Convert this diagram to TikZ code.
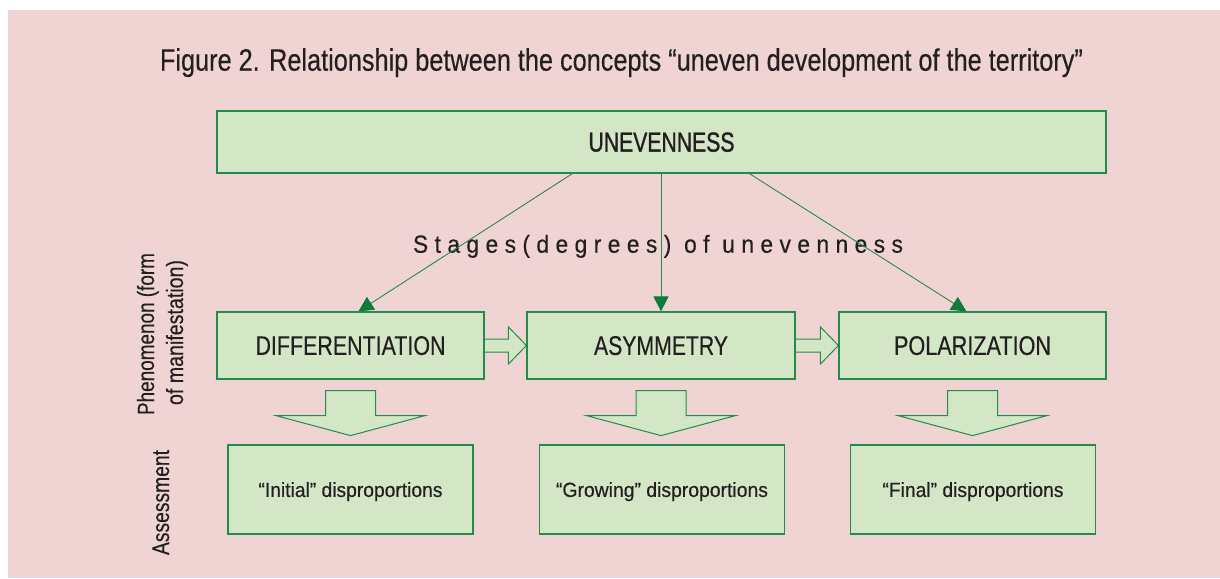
\documentclass[tikz,border=0pt]{standalone}
\usepackage{fontspec}
\setmainfont{Liberation Sans}
\usetikzlibrary{arrows.meta,calc}
\definecolor{bgpink}{HTML}{F0D4D4}
\definecolor{boxfill}{HTML}{D3E7C6}
\definecolor{boxline}{HTML}{238B4C}
\definecolor{headgreen}{HTML}{0E7A3C}
\definecolor{txt}{HTML}{231F20}
\newcommand{\fitto}[3]{\resizebox{#1pt}{\height}{\fontsize{#2}{#2}\selectfont\addfontfeature{FakeBold=0.4}#3}}
\begin{document}
\begin{tikzpicture}[x=1pt,y=-1pt,
  box/.style={draw=boxline,fill=boxfill,line width=1.2pt,inner sep=0pt,text depth=0pt,text=txt},
  blockarrow/.style={draw=boxline,fill=boxfill,line width=1pt,line join=miter},
  stagearrow/.style={draw=boxline,line width=0.9pt,-{Triangle[length=15pt,width=15pt,color=headgreen]}},
  lbl/.style={inner sep=0pt,text=txt}]
\useasboundingbox (0,0) rectangle (1220,578);
\fill[bgpink] (8,10) rectangle (1220,578);

\node[lbl,anchor=base] (title) at (621.5,70.7)
  {\fitto{923}{31}{Figure 2. Relationship between the concepts “uneven development of the territory”}};

\node[box,minimum width=889pt,minimum height=62pt] (top) at (661.5,142) {\fitto{146}{27.5}{\addfontfeature{FakeBold=1.3}UNEVENNESS}};

\node[box,minimum width=267pt,minimum height=67pt] (diff) at (350.5,345.5) {\fitto{190}{27}{DIFFERENTIATION}};
\node[box,minimum width=268pt,minimum height=67pt] (asym) at (661,345.5) {\fitto{134}{27}{ASYMMETRY}};
\node[box,minimum width=267pt,minimum height=67pt] (pol) at (972.5,345.5) {\fitto{157}{27}{POLARIZATION}};

\node[box,minimum width=245pt,minimum height=89pt] (init) at (350.5,489.5) {\fitto{184}{20.5}{“Initial” disproportions}};
\node[box,minimum width=245pt,minimum height=89pt] (grow) at (662,489.5) {\fitto{212}{20.5}{“Growing” disproportions}};
\node[box,minimum width=245pt,minimum height=89pt] (final) at (973,489.5) {\fitto{181}{20.5}{“Final” disproportions}};

\node[lbl,anchor=base] (stages) at (658,252.7)
  {\fitto{490}{24.7}{\addfontfeature{LetterSpace=28}Stages(degrees) of unevenness}};

\node[lbl,rotate=90,anchor=base] (phen1) at (154,334) {\fitto{162}{23.5}{Phenomenon (form}};
\node[lbl,rotate=90,anchor=base] (phen2) at (183,332.5) {\fitto{145}{23.5}{of manifestation)}};
\node[lbl,rotate=90,anchor=base] (assess) at (169,502.5) {\fitto{105}{24}{Assessment}};

% stage arrows
\draw[stagearrow] ($(top.south west)+(356,0)$) -- ($(diff.north west)+(142,0)$);
\draw[stagearrow] (top.south -| asym.north) -- (asym.north);
\draw[stagearrow] ($(top.south west)+(533,0)$) -- ($(pol.north west)+(128,0)$);

% horizontal block arrows
\foreach \a/\b in {diff/asym,asym/pol}{
  \draw[blockarrow] ($(\a.east)+(0.6,-6.5)$) -- ($(\b.west)+(-18,-6.5)$) -- ($(\b.west)+(-18,-18.5)$)
    -- (\b.west) -- ($(\b.west)+(-18,18.5)$) -- ($(\b.west)+(-18,6.5)$) -- ($(\a.east)+(0.6,6.5)$);
}
% down block arrows
\foreach \a in {diff,asym,pol}{
  \draw[blockarrow] ($(\a.south)+(-25,11)$) -- ($(\a.south)+(25,11)$) -- ($(\a.south)+(25,36)$)
    -- ($(\a.south)+(74.5,36)$) -- ($(\a.south)+(0,56)$) -- ($(\a.south)+(-74.5,36)$)
    -- ($(\a.south)+(-25,36)$) -- cycle;
}
\end{tikzpicture}
\end{document}
